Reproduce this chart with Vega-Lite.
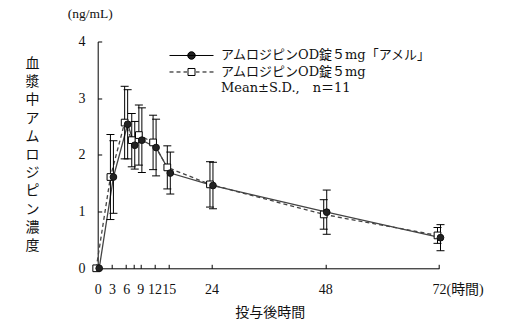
{
  "$schema": "https://vega.github.io/schema/vega-lite/v6.json",
  "autosize": {"type": "none"},
  "padding": {"left": 97.7, "top": 41.5, "right": 72, "bottom": 60.5},
  "width": 341.3,
  "height": 226.8,
  "background": "white",
  "title": {"text": "(ng/mL)", "anchor": "start", "frame": "group", "dx": -30, "offset": 14, "font": "Liberation Serif", "fontSize": 13.5, "fontWeight": "normal", "color": "#111"},
  "config": {
    "view": {"stroke": null},
    "axis": {"grid": false, "domainColor": "black", "tickColor": "black", "labelColor": "#111", "titleColor": "#111", "labelFont": "Liberation Serif, Noto Sans CJK JP", "labelFontSize": 14, "tickSize": -4, "domainWidth": 1, "tickWidth": 1},
    "legend": {"orient": "none", "legendX": 87.3, "legendY": 7.5, "symbolSize": 100, "labelOffset": 23,
      "symbolOpacity": 1, "symbolStrokeWidth": 1,
      "labelFont": "DejaVu Serif, Noto Sans CJK JP", "labelFontSize": 13, "labelColor": "#111", "labelLimit": 400,
      "rowPadding": 2.5}
  },
  "data": {"values": [
    {"series": "アムロジピンOD錠５mg", "t": 0, "mean": 0, "lo": null, "hi": null},
    {"series": "アムロジピンOD錠５mg", "t": 3, "mean": 1.61, "lo": 0.86, "hi": 2.36},
    {"series": "アムロジピンOD錠５mg", "t": 6, "mean": 2.57, "lo": 1.93, "hi": 3.21},
    {"series": "アムロジピンOD錠５mg", "t": 7.5, "mean": 2.26, "lo": 1.79, "hi": 2.73},
    {"series": "アムロジピンOD錠５mg", "t": 9, "mean": 2.35, "lo": 1.82, "hi": 2.88},
    {"series": "アムロジピンOD錠５mg", "t": 12, "mean": 2.22, "lo": 1.74, "hi": 2.70},
    {"series": "アムロジピンOD錠５mg", "t": 15, "mean": 1.78, "lo": 1.40, "hi": 2.16},
    {"series": "アムロジピンOD錠５mg", "t": 24, "mean": 1.48, "lo": 1.08, "hi": 1.88},
    {"series": "アムロジピンOD錠５mg", "t": 48, "mean": 0.95, "lo": 0.69, "hi": 1.21},
    {"series": "アムロジピンOD錠５mg", "t": 72, "mean": 0.58, "lo": 0.44, "hi": 0.72},
    {"series": "アムロジピンOD錠５mg「アメル」", "t": 0, "mean": 0, "lo": null, "hi": null},
    {"series": "アムロジピンOD錠５mg「アメル」", "t": 3, "mean": 1.61, "lo": 0.97, "hi": 2.25},
    {"series": "アムロジピンOD錠５mg「アメル」", "t": 6, "mean": 2.54, "lo": 1.93, "hi": 3.15},
    {"series": "アムロジピンOD錠５mg「アメル」", "t": 7.5, "mean": 2.17, "lo": 1.75, "hi": 2.59},
    {"series": "アムロジピンOD錠５mg「アメル」", "t": 9, "mean": 2.26, "lo": 1.69, "hi": 2.83},
    {"series": "アムロジピンOD錠５mg「アメル」", "t": 12, "mean": 2.13, "lo": 1.63, "hi": 2.63},
    {"series": "アムロジピンOD錠５mg「アメル」", "t": 15, "mean": 1.68, "lo": 1.31, "hi": 2.05},
    {"series": "アムロジピンOD錠５mg「アメル」", "t": 24, "mean": 1.46, "lo": 1.05, "hi": 1.87},
    {"series": "アムロジピンOD錠５mg「アメル」", "t": 48, "mean": 0.99, "lo": 0.60, "hi": 1.38},
    {"series": "アムロジピンOD錠５mg「アメル」", "t": 72, "mean": 0.54, "lo": 0.31, "hi": 0.77}
  ]},
  "encoding": {
    "x": {"field": "t", "type": "quantitative", "scale": {"domain": [0, 72], "nice": false, "zero": false},
      "axis": {"values": [0, 3, 6, 7.5, 9, 12, 15, 24, 48, 72], "labelPadding": 18.7,
        "labelExpr": "datum.value == 7.5 ? '' : (datum.value == 72 ? '72(時間)' : datum.label)",
        "labelAlign": {"condition": {"test": "datum.value == 72", "value": "left"}, "value": "center"},
        "labelOffset": {"condition": {"test": "datum.value == 72", "value": -7}, "value": 0},
        "labelFlush": false, "labelOverlap": false,
        "title": "投与後時間", "titleFont": "Noto Sans CJK JP", "titleFontSize": 14, "titleFontWeight": "normal",
        "titleX": 172, "titleY": 37, "titleBaseline": "top", "titleAlign": "center"}}
  },
  "layer": [
    {
      "mark": {"type": "line", "strokeWidth": 1.3, "color": "#444", "xOffset": -1.5},
      "transform": [{"filter": "datum.series == 'アムロジピンOD錠５mg'"}],
      "encoding": {"y": {"field": "mean", "type": "quantitative", "scale": {"domain": [0, 4], "nice": false},
          "axis": {"values": [0, 1, 2, 3, 4], "format": "d", "labelPadding": 16.7,
            "title": ["血", "漿", "中", "ア", "ム", "ロ", "ジ", "ピ", "ン", "濃", "度"],
            "titleFont": "Noto Sans CJK JP", "titleFontSize": 14, "titleFontWeight": "normal", "titleAngle": 0,
            "titleLineHeight": 18.2, "titleX": -65.7, "titleY": 15, "titleAlign": "center", "titleBaseline": "top"}},
        "strokeDash": {"value": [4, 3]}}
    },
    {
      "mark": {"type": "line", "strokeWidth": 1.3, "color": "#444", "xOffset": 1.5},
      "transform": [{"filter": "datum.series == 'アムロジピンOD錠５mg「アメル」'"}],
      "encoding": {"y": {"field": "mean", "type": "quantitative"}}
    },
    {
      "mark": {"type": "rule", "color": "black", "strokeWidth": 1, "xOffset": -1.5},
      "transform": [{"filter": "datum.series == 'アムロジピンOD錠５mg'"}],
      "encoding": {"y": {"field": "lo", "type": "quantitative"}, "y2": {"field": "hi"}}
    },
    {
      "mark": {"type": "tick", "orient": "horizontal", "color": "black", "size": 8, "thickness": 1, "xOffset": -1.5, "opacity": 1},
      "transform": [{"filter": "datum.series == 'アムロジピンOD錠５mg'"}],
      "encoding": {"y": {"field": "lo", "type": "quantitative"}}
    },
    {
      "mark": {"type": "tick", "orient": "horizontal", "color": "black", "size": 8, "thickness": 1, "xOffset": -1.5, "opacity": 1},
      "transform": [{"filter": "datum.series == 'アムロジピンOD錠５mg'"}],
      "encoding": {"y": {"field": "hi", "type": "quantitative"}}
    },
    {
      "mark": {"type": "rule", "color": "black", "strokeWidth": 1, "xOffset": 1.5},
      "transform": [{"filter": "datum.series == 'アムロジピンOD錠５mg「アメル」'"}],
      "encoding": {"y": {"field": "lo", "type": "quantitative"}, "y2": {"field": "hi"}}
    },
    {
      "mark": {"type": "tick", "orient": "horizontal", "color": "black", "size": 8, "thickness": 1, "xOffset": 1.5, "opacity": 1},
      "transform": [{"filter": "datum.series == 'アムロジピンOD錠５mg「アメル」'"}],
      "encoding": {"y": {"field": "lo", "type": "quantitative"}}
    },
    {
      "mark": {"type": "tick", "orient": "horizontal", "color": "black", "size": 8, "thickness": 1, "xOffset": 1.5, "opacity": 1},
      "transform": [{"filter": "datum.series == 'アムロジピンOD錠５mg「アメル」'"}],
      "encoding": {"y": {"field": "hi", "type": "quantitative"}}
    },
    {
      "mark": {"type": "point", "shape": "square", "filled": true, "fill": "white", "stroke": "black", "strokeWidth": 1, "size": 45, "opacity": 1, "xOffset": -1.5},
      "transform": [{"filter": "datum.series == 'アムロジピンOD錠５mg'"}],
      "encoding": {"y": {"field": "mean", "type": "quantitative"}}
    },
    {
      "mark": {"type": "point", "shape": "circle", "filled": true, "fill": "#222", "stroke": "#111", "strokeWidth": 1, "size": 45, "opacity": 1, "xOffset": 1.5},
      "transform": [{"filter": "datum.series == 'アムロジピンOD錠５mg「アメル」'"}],
      "encoding": {"y": {"field": "mean", "type": "quantitative"}}
    },
    {
      "mark": {"type": "point", "filled": true, "opacity": 0, "strokeWidth": 1, "size": 100},
      "encoding": {
        "y": {"field": "mean", "type": "quantitative"},
        "shape": {"field": "series", "type": "nominal",
          "scale": {"domain": ["アムロジピンOD錠５mg「アメル」", "アムロジピンOD錠５mg", "Mean±S.D.,　n＝11"],
            "range": ["M-4.4,0H4.4M-0.75,0A0.75,0.75 0 1,0 0.75,0A0.75,0.75 0 1,0 -0.75,0Z", "M-4.4,0H-3.6M-3,0H-2.2M-1.6,0H-0.9M0.9,0H1.6M2.2,0H3M3.6,0H4.4M-0.7,-0.7H0.7V0.7H-0.7Z", "M0,0"]},
          "legend": {"title": null}},
        "fill": {"field": "series", "type": "nominal",
          "scale": {"domain": ["アムロジピンOD錠５mg「アメル」", "アムロジピンOD錠５mg", "Mean±S.D.,　n＝11"], "range": ["#222", "white", "white"]},
          "legend": {"title": null}},
        "stroke": {"field": "series", "type": "nominal",
          "scale": {"domain": ["アムロジピンOD錠５mg「アメル」", "アムロジピンOD錠５mg", "Mean±S.D.,　n＝11"], "range": ["black", "black", "white"]},
          "legend": {"title": null}}
      }
    }
  ]
}
